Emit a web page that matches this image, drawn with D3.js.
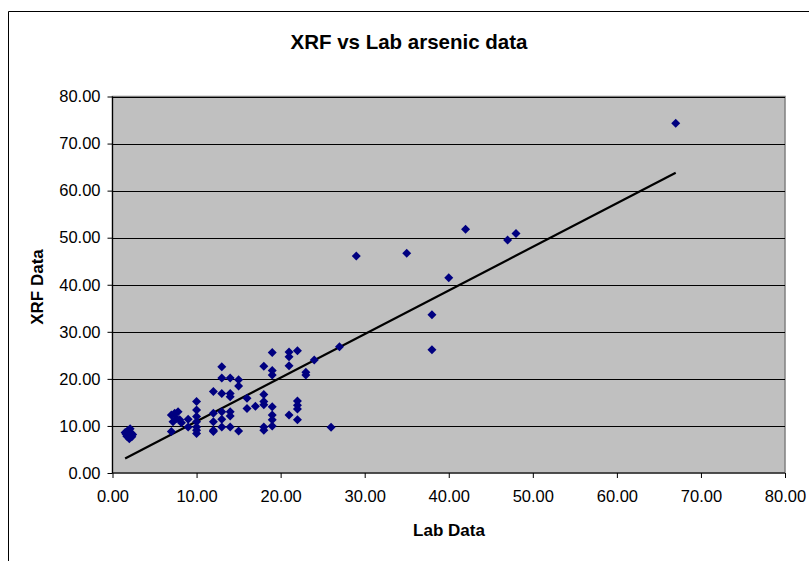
<!DOCTYPE html>
<html><head><meta charset="utf-8">
<script src="https://cdn.jsdelivr.net/npm/d3@7"></script>
<style>body{margin:0;background:#fff;}svg{display:block;font-family:"Liberation Sans",Arial,sans-serif;}</style>
</head><body>
<script>
const chartTitle = "XRF vs Lab arsenic data";
const xTitle = "Lab Data";
const yTitle = "XRF Data";
const xTicks = [0,10,20,30,40,50,60,70,80];
const yTicks = [0,10,20,30,40,50,60,70,80];
const labData = [1.5,1.8,2.2,1.7,2.0,2.3,2.1,1.6,2.4,
  7.0,7.0,7.4,7.8,7.6,8.0,7.2,8.2,9.0,9.0,
  10,10,10,10,10,10,10,
  12,12,12,12,12,
  13,13,13,13,13,13,
  14,14,14,14,14,14,
  15,15,15,16,16,17,
  18,18,18,18,18,18,
  19,19,19,19,19,19,19,
  21,21,21,21,
  22,22,22,22,22,
  23,23,24,26,27,29,35,38,38,40,42,47,48,67];
const xrfData = [8.6,9.0,8.5,7.8,7.3,7.7,9.4,8.3,8.2,
  8.8,12.3,12.7,13.0,11.6,11.3,10.9,10.7,11.4,9.8,
  15.2,13.4,12.0,10.9,9.8,9.1,8.4,
  17.3,12.7,10.9,9.1,8.8,
  22.6,20.2,16.9,13.0,11.4,9.8,
  20.2,16.9,16.2,13.0,12.1,9.8,
  19.8,18.5,8.9,15.9,13.7,14.2,
  22.7,16.7,15.2,14.5,9.8,9.1,
  25.6,21.8,20.8,14.1,12.3,11.3,10.0,
  25.7,24.7,22.8,12.3,
  26.0,15.3,14.4,13.6,11.3,
  21.4,20.8,24.0,9.7,26.8,46.1,46.7,33.6,26.2,41.5,51.8,49.5,50.9,74.3];
const trendSlope = 0.927;
const trendIntercept = 1.71;

const W = 809, H = 561;
const svg = d3.select("body").append("svg").attr("width", W).attr("height", H);
const m = {left:112.5, right:785, top:96.5, bottom:473};
const x = d3.scaleLinear().domain([0,80]).range([m.left, m.right]);
const y = d3.scaleLinear().domain([0,80]).range([m.bottom, m.top]);

// chart area border
svg.append("path").attr("d", `M8.5,${H} V11.5 H${W}`).attr("fill","none").attr("stroke","#000").attr("stroke-width",1);

// plot area
svg.append("rect").attr("x", m.left).attr("y", m.top).attr("width", m.right-m.left).attr("height", m.bottom-m.top)
  .attr("fill","#c0c0c0").attr("stroke","#808080").attr("stroke-width",1.5);

// gridlines
svg.append("g").selectAll("line").data(yTicks.filter(d=>d>0)).join("line")
  .attr("x1", m.left).attr("x2", m.right)
  .attr("y1", d=>Math.round(y(d))+0.5).attr("y2", d=>Math.round(y(d))+0.5)
  .attr("stroke","#000").attr("stroke-width",1);

// axes
const fmt = d3.format(".2f");
const gx = svg.append("g").attr("transform", `translate(0,${m.bottom})`)
  .call(d3.axisBottom(x).tickValues(xTicks).tickFormat(fmt).tickSize(5).tickPadding(12));
const gy = svg.append("g").attr("transform", `translate(${m.left},0)`)
  .call(d3.axisLeft(y).tickValues(yTicks).tickFormat(fmt).tickSize(5).tickPadding(7));
[gx, gy].forEach(g => {
  g.select(".domain").attr("stroke","#000").attr("stroke-width",1.2);
  g.selectAll(".tick line").attr("stroke","#000");
  g.selectAll("text").attr("font-size", 16.5).attr("fill","#000").attr("font-family",'"Liberation Sans",Arial,sans-serif');
});
gx.select(".domain").attr("d", `M${m.left},0H${m.right}`);
gy.select(".domain").attr("d", `M0,${m.bottom}V${m.top}`);

// trendline
const xMin = d3.min(labData), xMax = d3.max(labData);
svg.append("line")
  .attr("x1", x(xMin)).attr("y1", y(trendSlope*xMin + trendIntercept))
  .attr("x2", x(xMax)).attr("y2", y(trendSlope*xMax + trendIntercept))
  .attr("stroke","#000").attr("stroke-width",2.2);

// points
const diamond = "M0,-4.5L4.5,0L0,4.5L-4.5,0Z";
svg.append("g").selectAll("path").data(labData.map((d,i)=>[d, xrfData[i]])).join("path")
  .attr("d", diamond).attr("transform", d=>`translate(${x(d[0])},${y(d[1])})`)
  .attr("fill","#000080");

// titles
svg.append("text").attr("x", 409).attr("y", 49).attr("text-anchor","middle")
  .attr("font-size", 20.5).attr("font-weight","bold").text(chartTitle);
svg.append("text").attr("x", 449).attr("y", 536).attr("text-anchor","middle")
  .attr("font-size", 17).attr("font-weight","bold").text(xTitle);
svg.append("text").attr("transform", "translate(43,287) rotate(-90)").attr("text-anchor","middle")
  .attr("font-size", 17).attr("font-weight","bold").text(yTitle);
</script>
</body></html>
